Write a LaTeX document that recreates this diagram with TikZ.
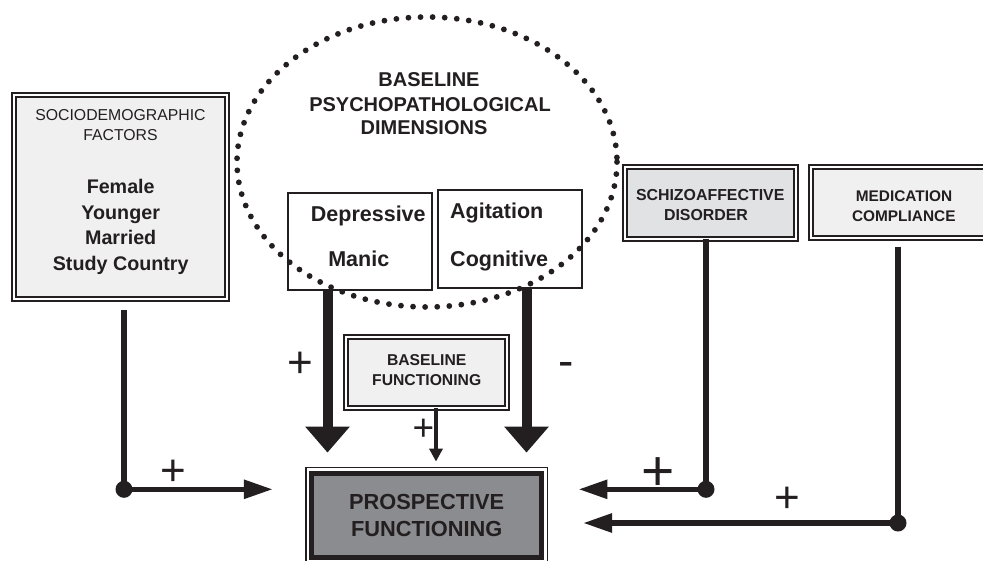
\documentclass[tikz,border=0pt]{standalone}
\usepackage{fontspec}
\setmainfont{Liberation Sans}
\usetikzlibrary{arrows.meta}
\definecolor{ink}{HTML}{231F20}
\definecolor{boxfill}{HTML}{F0F0F0}
\definecolor{schfill}{HTML}{E1E2E4}
\definecolor{pffill}{HTML}{8B8C8F}
\newcommand\fsz[1]{\fontsize{#1}{#1}\selectfont}
\begin{document}
\begin{tikzpicture}[x=1pt,y=-1pt,
  dbox/.style={draw=ink, line width=1.6pt, double=white, double distance=2.4pt, inner sep=0pt, outer sep=0pt},
  sbox/.style={draw=ink, line width=1.3pt, fill=white, inner sep=0pt, outer sep=0pt},
  txt/.style={inner sep=0pt, outer sep=0pt, anchor=base, text=ink},
  conn/.style={draw=ink, line width=5.5pt},
  harr/.style={-{Triangle[length=29pt,width=18pt]}},
  bigarr/.style={draw=ink, line width=10pt, -{Triangle[length=26pt,width=43pt]}},
  smallarr/.style={draw=ink, line width=4.5pt, -{Triangle[length=13pt,width=13pt]}},
  dotn/.style={circle, fill=ink, minimum size=17pt, inner sep=0pt, outer sep=0pt}]
\useasboundingbox (0,0) rectangle (983,560);
\clip (0,0) rectangle (983,560);

% sociodemographic box
\node[dbox, fill=boxfill, minimum width=213.4pt, minimum height=204.4pt] (socio) at (120.5,197) {};
\node[txt, font=\fsz{15.8}] (soc1) at (120.5,120.5) {SOCIODEMOGRAPHIC};
\node[txt, font=\fsz{15.8}] (soc2) at (120.5,140.7) {FACTORS};
\node[txt, font=\bfseries\fsz{19.7}] (soc3) at (120.7,193.3) {Female};
\node[txt, font=\bfseries\fsz{19.7}] (soc4) at (120.7,219.1) {Younger};
\node[txt, font=\bfseries\fsz{19.7}] (soc5) at (120.7,244.9) {Married};
\node[txt, font=\bfseries\fsz{19.7}] (soc6) at (120.7,270.7) {Study Country};

% dimension boxes
\node[sbox, minimum width=144pt, minimum height=97pt] (dep) at (360,241.5) {};
\node[sbox, minimum width=144pt, minimum height=98pt] (agi) at (510,239) {};
\node[txt, font=\bfseries\fsz{21.5}] (t1) at (368.3,221) {Depressive};
\node[txt, font=\bfseries\fsz{21.5}] (t2) at (358.8,266.7) {Manic};
\node[txt, font=\bfseries\fsz{21.5}] (t3) at (496.7,218.3) {Agitation};
\node[txt, font=\bfseries\fsz{21.5}] (t4) at (499.2,266.7) {Cognitive};

% dotted ellipse
\draw[ink, line width=5.8pt, line cap=round, dash pattern=on 0pt off 12.1pt] (427,162) ellipse [x radius=190, y radius=145];
\node[txt, font=\bfseries\fsz{20}] (h1) at (429,86.7) {BASELINE};
\node[txt, font=\bfseries\fsz{20}] (h2) at (430,111) {PSYCHOPATHOLOGICAL};
\node[txt, font=\bfseries\fsz{20}] (h3) at (424,134.3) {DIMENSIONS};

% schizoaffective and medication boxes
\node[dbox, fill=schfill, minimum width=171.4pt, minimum height=72.1pt] (sch) at (710.5,202.85) {};
\node[txt, font=\bfseries\fsz{15.9}] (s1) at (710.2,200.7) {SCHIZOAFFECTIVE};
\node[txt, font=\bfseries\fsz{15.9}] (s2) at (706,220) {DISORDER};
\node[dbox, fill=boxfill, minimum width=189.2pt, minimum height=71.4pt] (med) at (905.4,202.5) {};
\node[txt, font=\bfseries\fsz{15.4}] (m1) at (904,201.7) {MEDICATION};
\node[txt, font=\bfseries\fsz{15.4}] (m2) at (903.8,221) {COMPLIANCE};

% baseline functioning
\node[dbox, fill=boxfill, minimum width=161.4pt, minimum height=71.4pt] (bf) at (426.5,372.5) {};
\node[txt, font=\bfseries\fsz{15.7}] (b1) at (426.7,365) {BASELINE};
\node[txt, font=\bfseries\fsz{15.7}] (b2) at (426.7,385.7) {FUNCTIONING};

% prospective functioning
\node[draw=ink, line width=1.2pt, fill=white, minimum width=241.5pt, minimum height=95.4pt, inner sep=0pt, outer sep=0pt] (pf) at (426.65,515.3) {};
\draw[ink, line width=4.7pt, fill=pffill] ([xshift=5.7pt,yshift=-5.7pt]pf.north west) rectangle ([xshift=-5.7pt,yshift=5.7pt]pf.south east);
\node[txt, font=\bfseries\fsz{21.8}] (f1) at (426.7,509.3) {PROSPECTIVE};
\node[txt, font=\bfseries\fsz{21.8}] (f2) at (426.7,536.7) {FUNCTIONING};

% thick arrows
\coordinate (a1) at ([xshift=-32.5pt]dep.south);
\coordinate (a2) at ([xshift=16.5pt]agi.south);
\coordinate (a3) at ([xshift=9.5pt]bf.south);
\draw[bigarr, shorten >=15pt] (a1) -- (a1 |- pf.north);
\draw[bigarr, shorten >=15pt] (a2) -- (a2 |- pf.north);
\draw[smallarr, shorten >=6pt] (a3) -- (a3 |- pf.north);

% junction dots and connectors
\node[dotn] (d1) at (124,489.3) {};
\node[dotn] (d2) at (706,489.3) {};
\node[dotn] (d3) at (898,523) {};
\draw[conn, shorten <=10.7pt] (socio.south -| d1) -- (d1.center);
\draw[conn, harr, shorten >=33pt] (d1.center) -- (d1 -| pf.west);
\draw[conn] (sch.south -| d2) -- (d2.center);
\draw[conn, harr, shorten >=31pt] (d2.center) -- (d2 -| pf.east);
\draw[conn, shorten <=8.5pt] (med.south -| d3) -- (d3.center);
\draw[conn, harr, shorten >=35.6pt] (d3.center) -- (d3 -| pf.east);

% signs
\node[txt, font=\fsz{44}] (p1) at (300,377.4) {+};
\node[txt, font=\fsz{46}] (p2) at (566,376.3) {-};
\node[txt, font=\fsz{37}] (p3) at (423.3,440.3) {+};
\node[txt, font=\fsz{44}] (p4) at (173.3,485.1) {+};
\node[txt, font=\fsz{57}] (p5) at (658.3,490) {+};
\node[txt, font=\fsz{44}] (p6) at (787,512.4) {+};
\end{tikzpicture}
\end{document}
